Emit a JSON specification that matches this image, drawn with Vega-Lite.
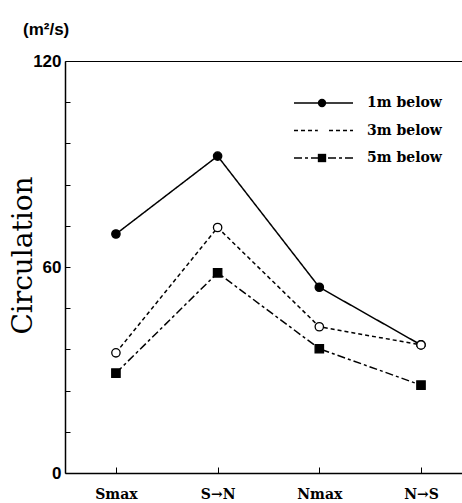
{
  "$schema": "https://vega.github.io/schema/vega-lite/v6.json",
  "width": 397,
  "height": 412,
  "autosize": {"type": "none"},
  "padding": {"left": 65, "top": 61, "right": 0, "bottom": 30},
  "background": "white",
  "title": {
    "text": "(m²/s)",
    "anchor": "start",
    "frame": "group",
    "dx": -42,
    "dy": 13,
    "offset": 13,
    "baseline": "alphabetic",
    "font": "Liberation Sans",
    "fontSize": 17,
    "fontWeight": "bold",
    "color": "black"
  },
  "data": {
    "values": [
      {"cat": "Smax", "depth": "1m below", "value": 69.6},
      {"cat": "S→N", "depth": "1m below", "value": 92.3},
      {"cat": "Nmax", "depth": "1m below", "value": 54.1},
      {"cat": "N→S", "depth": "1m below", "value": 37.3},
      {"cat": "Smax", "depth": "3m below", "value": 35.0},
      {"cat": "S→N", "depth": "3m below", "value": 71.5},
      {"cat": "Nmax", "depth": "3m below", "value": 42.6},
      {"cat": "N→S", "depth": "3m below", "value": 37.3},
      {"cat": "Smax", "depth": "5m below", "value": 29.1},
      {"cat": "S→N", "depth": "5m below", "value": 58.3},
      {"cat": "Nmax", "depth": "5m below", "value": 36.2},
      {"cat": "N→S", "depth": "5m below", "value": 25.6}
    ]
  },
  "encoding": {
    "y": {
      "field": "value", "type": "quantitative",
      "scale": {"domain": [0, 120], "nice": false, "zero": true},
      "axis": {
        "values": [0, 12, 24, 36, 48, 60, 72, 84, 96, 108, 120],
        "labelExpr": "datum.value % 60 === 0 ? datum.label : ''",
        "title": "Circulation",
        "titleFont": "DejaVu Serif", "titleFontSize": 28, "titleFontWeight": "normal",
        "titleColor": "black", "titleAngle": -90, "titleX": -34, "titleY": 194,
        "titleAlign": "center", "titleBaseline": "alphabetic",
        "labelFont": "Liberation Sans", "labelFontWeight": "bold", "labelFontSize": 17,
        "labelColor": "black", "tickSize": -5, "tickColor": "black", "labelPadding": 9,
        "domainColor": "black", "domainWidth": 1.5, "grid": false
      }
    }
  },
  "layer": [
    {
      "mark": {"type": "line", "color": "black", "strokeWidth": 1.5},
      "encoding": {
        "x": {
          "field": "cat", "type": "nominal", "sort": ["Smax", "S→N", "Nmax", "N→S"],
          "scale": {"type": "point", "padding": 0.452, "align": 0.554},
          "axis": {
            "orient": "bottom", "title": null, "labelAngle": 0,
            "labelFont": "DejaVu Serif", "labelFontWeight": "bold", "labelFontSize": 14,
            "labelColor": "black", "tickSize": -6, "tickColor": "black", "labelPadding": 20,
            "domainColor": "black", "domainWidth": 1.5, "grid": false, "labelBaseline": "top"
          }
        },
        "strokeDash": {
          "field": "depth", "type": "nominal",
          "scale": {"range": [[1, 0], [4, 3], [8, 3, 3, 3]]},
          "legend": {
            "orient": "none", "legendX": 228, "legendY": 32, "title": null,
            "symbolType": "stroke", "symbolSize": 3481, "symbolStrokeWidth": 1.5,
            "symbolStrokeColor": "black", "clipHeight": 20, "rowPadding": 7.5,
            "labelOffset": 13, "padding": 0,
            "labelFont": "DejaVu Serif", "labelFontWeight": "bold", "labelFontSize": 14,
            "labelColor": "black"
          }
        }
      }
    },
    {
      "mark": {"type": "point", "filled": true, "stroke": "black", "strokeWidth": 1.3, "size": 70, "opacity": 1},
      "encoding": {
        "x": {
          "field": "cat", "type": "nominal", "sort": ["Smax", "S→N", "Nmax", "N→S"],
          "axis": {"orient": "top", "title": null, "labels": false, "ticks": false, "domainColor": "black", "domainWidth": 1.2, "grid": false}
        },
        "shape": {
          "field": "depth", "type": "nominal",
          "scale": {"domain": ["1m below", "3m below", "5m below"], "range": ["circle", "circle", "square"]},
          "legend": {
            "orient": "none", "legendX": 252, "legendY": 32, "title": null,
            "symbolSize": 70, "symbolStrokeWidth": 1.3, "symbolStrokeColor": "black",
            "clipHeight": 20, "rowPadding": 7.5, "padding": 0, "labelExpr": "''"
          }
        },
        "fill": {
          "field": "depth", "type": "nominal",
          "scale": {"domain": ["1m below", "3m below", "5m below"], "range": ["black", "white", "black"]},
          "legend": {
            "orient": "none", "legendX": 252, "legendY": 32, "title": null,
            "symbolSize": 70, "symbolStrokeWidth": 1.3, "symbolStrokeColor": "black",
            "clipHeight": 20, "rowPadding": 7.5, "padding": 0, "labelExpr": "''"
          }
        }
      }
    }
  ],
  "config": {
    "view": {"stroke": null}
  }
}
